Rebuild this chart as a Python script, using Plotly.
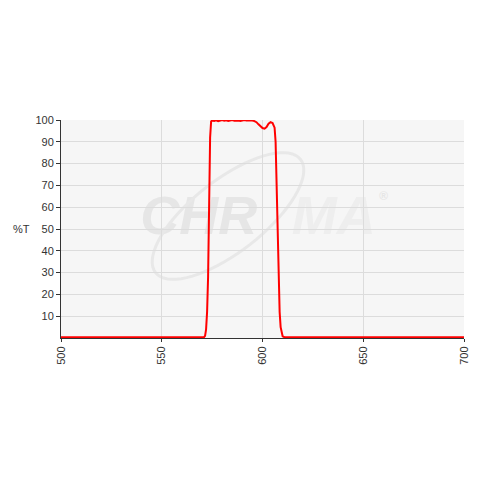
import math
import plotly.graph_objects as go

wavelength = [500, 520, 540, 560, 570, 571, 571.5, 572, 572.5, 573, 573.5, 574, 574.5, 575,
              576, 577, 578, 579, 580, 581, 582, 583, 584, 585, 586, 587, 588, 589, 590,
              591, 592, 593, 594, 595, 596, 597, 598, 599, 600, 601, 602, 603, 604, 605,
              606, 606.5, 607, 607.5, 608, 608.5, 609, 609.5, 610, 611, 620, 640, 660, 680, 700]
transmission = [0.3, 0.3, 0.3, 0.3, 0.3, 0.4, 1, 4, 12, 28, 60, 92, 99.3, 99.8,
                99.6, 99.9, 99.5, 99.8, 100, 99.7, 99.9, 99.6, 99.8, 100, 99.7, 99.9, 99.8, 99.6, 99.9,
                100, 99.8, 99.9, 99.7, 99.8, 99.5, 99.0, 98.0, 97.0, 96.3, 96.0, 96.8, 98.3, 99.0, 98.6,
                96.5, 90, 70, 45, 25, 12, 5, 2, 0.8, 0.3, 0.3, 0.3, 0.3, 0.3, 0.3]

x_ticks = [500, 550, 600, 650, 700]
y_ticks = [10, 20, 30, 40, 50, 60, 70, 80, 90, 100]

fig = go.Figure()
fig.add_trace(go.Scatter(x=wavelength, y=transmission, mode="lines",
                         line=dict(color="#ff0000", width=2), hoverinfo="skip"))

# watermark (decoration), in paper coordinates
def wm_label(text, cx, cy, size, color):
    fig.add_shape(type="rect", xref="paper", yref="paper",
                  x0=cx - 0.01, x1=cx + 0.01, y0=cy - 0.01, y1=cy + 0.01,
                  line=dict(width=0), fillcolor="rgba(0,0,0,0)", layer="below",
                  label=dict(text=text, textposition="middle center",
                             font=dict(family="Liberation Sans", size=size, color=color,
                                       weight="bold", style="italic")))

wm_label("CHR", 0.342, 0.585, 54, "#e6e6e6")
wm_label("MA", 0.677, 0.585, 54, "#eeeeee")
wm_label("®", 0.80, 0.655, 12, "#e6e6e6")

# swoosh ellipse (page pixel geometry of the plot area)
pl, pr, pt, pb = 61, 464, 120, 338
cx, cy, a, b, ang = 228, 216, 92, 36, math.radians(-38)
pts = []
for i in range(0, 73):
    t = 2 * math.pi * i / 72
    px = cx + a * math.cos(t) * math.cos(ang) - b * math.sin(t) * math.sin(ang)
    py = cy + a * math.cos(t) * math.sin(ang) + b * math.sin(t) * math.cos(ang)
    pts.append(((px - pl) / (pr - pl), (pb - py) / (pb - pt)))
path = "M " + " L ".join(f"{x:.4f},{y:.4f}" for x, y in pts) + " Z"
fig.add_shape(type="path", xref="paper", yref="paper", path=path,
              line=dict(color="#e8e8e8", width=3), layer="below")

fig.add_annotation(x=-0.072, y=0.5, xref="paper", yref="paper", text="%T", xanchor="right",
                   showarrow=False, font=dict(family="Liberation Sans", size=11, color="#333333"))

fig.update_layout(
    width=472, height=472,
    margin=dict(l=53, r=16, t=112, b=142, autoexpand=False),
    paper_bgcolor="white", plot_bgcolor="#f6f6f6",
    showlegend=False,
    font=dict(family="Liberation Sans", size=11, color="#333333"),
    xaxis=dict(range=[500, 700], tickvals=x_ticks, ticktext=[str(v) for v in x_ticks],
               tickangle=-90, showgrid=True, gridcolor="#dcdcdc", gridwidth=1,
               showline=True, linecolor="#333333", linewidth=1, automargin=False,
               ticks="outside", ticklen=3, tickcolor="#333333", zeroline=False),
    yaxis=dict(range=[0, 100], tickvals=y_ticks, showgrid=True, gridcolor="#dcdcdc",
               showline=True, linecolor="#333333", linewidth=1, automargin=False,
               ticks="outside", ticklen=4, tickcolor="#333333", zeroline=False),
)

fig.write_html("out.html")
